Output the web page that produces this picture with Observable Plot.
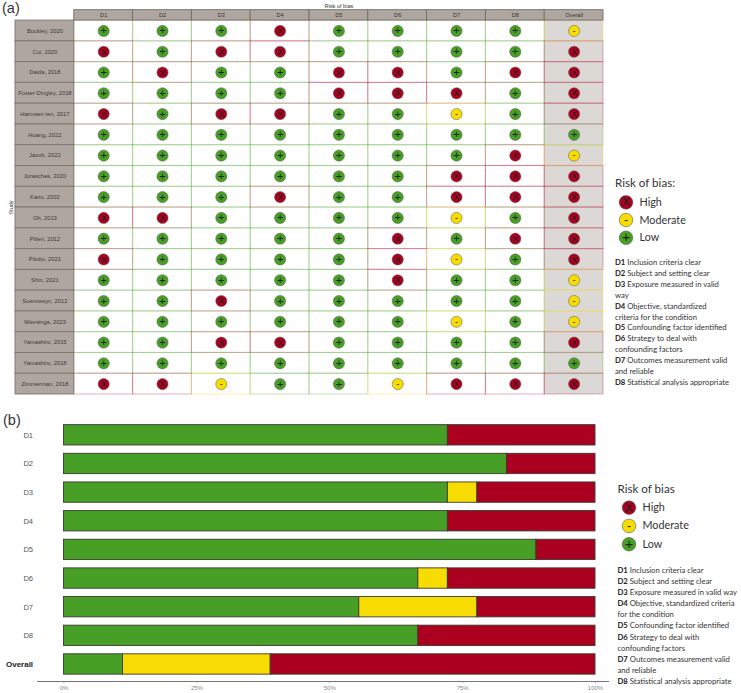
<!DOCTYPE html>
<html>
<head>
<meta charset="utf-8">
<script src="https://cdn.jsdelivr.net/npm/d3@7"></script>
<script src="https://cdn.jsdelivr.net/npm/@observablehq/plot@0.6"></script>
<style>
  html,body{margin:0;padding:0;background:#fff;}
  #page{position:relative;width:741px;height:693px;overflow:hidden;font-family:"Liberation Sans",sans-serif;}
  #page svg{position:absolute;background:transparent;overflow:visible;}
  .tag{position:absolute;font:14.5px "Liberation Sans",sans-serif;color:#333;line-height:1;}
  .ttl{position:absolute;font:11.6px Lato,sans-serif;color:#333;line-height:1;white-space:nowrap;}
  .def{position:absolute;font:7.7px Lato,sans-serif;color:#333;white-space:nowrap;line-height:1;}
  .def b{font-weight:700;color:#222;}
</style>
</head>
<body>
<div id="page"></div>
<script>
const studies = ["Buckley, 2020","Cui, 2020","Daida, 2018","Foster-Dingley, 2018","Harmsen ten, 2017","Huang, 2022","Jacob, 2022","Juraschek, 2020","Kario, 2002","Oh, 2013","Pilleri, 2012","Pilotto, 2021","Shin, 2021","Soennesyn, 2012","Wiersinga, 2023","Yamashiro, 2015","Yamashiro, 2018","Zimmerman, 2018"];
const domains = ["D1","D2","D3","D4","D5","D6","D7","D8","Overall"];
const D1 = ["+","X","+","+","X","+","+","+","+","X","+","X","+","+","+","+","+","X"];
const D2 = ["+","+","X","+","+","+","+","+","+","X","+","+","+","+","+","+","+","X"];
const D3 = ["+","X","+","+","X","+","+","+","+","+","+","+","+","X","+","X","+","-"];
const D4 = ["X","X","+","+","X","+","+","+","X","+","+","+","+","+","+","X","+","+"];
const D5 = ["+","+","X","X","+","+","+","+","+","+","+","+","+","+","+","+","+","+"];
const D6 = ["+","+","X","X","+","+","+","+","+","+","X","X","X","+","+","+","+","-"];
const D7 = ["+","+","+","X","-","+","+","X","X","-","+","-","+","+","-","+","+","X"];
const D8 = ["+","+","X","+","+","+","X","X","X","+","X","+","+","+","+","+","+","X"];
const Overall = ["-","X","X","X","X","+","-","X","X","X","X","X","-","-","-","X","+","X"];
const columns = [D1,D2,D3,D4,D5,D6,D7,D8,Overall];

const lowCounts  = [13,15,13,13,16,12,10,12,2];
const modCounts  = [0,0,1,0,0,1,4,0,5];
const highCounts = [5,3,4,5,2,5,4,6,11];
const nStudies = 18;
const pctTicks = [0,25,50,75,100];

const riskCodes = ["X","-","+"];
const riskLabels = ["High","Moderate","Low"];
const riskColors = ["#ab0020","#f6dc00","#47a025"];

const defsA = [["D1","Inclusion criteria clear"],["D2","Subject and setting clear"],["D3","Exposure measured in valid"],["","way"],["D4","Objective, standardized"],["","criteria for the condition"],["D5","Confounding factor identified"],["D6","Strategy to deal with"],["","confounding factors"],["D7","Outcomes measurement valid"],["","and reliable"],["D8","Statistical analysis appropriate"]];
const defsB = [["D1","Inclusion criteria clear"],["D2","Subject and setting clear"],["D3","Exposure measured in valid way"],["D4","Objective, standardized criteria"],["","for the condition"],["D5","Confounding factor identified"],["D6","Strategy to deal with"],["","confounding factors"],["D7","Outcomes measurement valid"],["","and reliable"],["D8","Statistical analysis appropriate"]];

const page = document.getElementById("page");
const FONT = "Liberation Sans";
const colorScale = {domain: riskCodes, range: riskColors};

// (a) traffic-light plot
const cells = studies.flatMap((s,i)=>domains.map((d,j)=>({study:s,domain:d,risk:columns[j][i]})));
const xCols = ["Study",...domains];
const yRows = ["Header",...studies];
const plotA = Plot.plot({
  width:741,height:395,margin:0,marginBottom:1,
  style:{fontFamily:FONT,background:"transparent"},
  x:{type:"band",domain:xCols,range:[15,603],padding:0,round:false,axis:null},
  y:{type:"band",domain:yRows,range:[-0.7,394],padding:0,round:false,axis:null},
  color:colorScale,
  marks:[
    Plot.cell(studies,{x:()=>"Overall",y:d=>d,fill:"#dcd8d5"}),
    Plot.cell(cells,{x:"domain",y:"study",fill:"none",stroke:"risk",strokeOpacity:0.28,strokeWidth:1.1}),
    Plot.cell(domains,{x:d=>d,y:()=>"Header",insetTop:10.4,fill:"#b0a6a0",stroke:"#746c67",strokeWidth:0.9}),
    Plot.cell(studies,{x:()=>"Study",y:d=>d,fill:"#b0a6a0",stroke:"#7c746f",strokeWidth:0.9}),
    Plot.text(domains,{x:d=>d,y:()=>"Header",text:d=>d,dy:5.2,fontSize:5.6,fill:"#333"}),
    Plot.text(studies,{x:()=>"Study",y:d=>d,text:d=>d,fontSize:5.8,fill:"#3a3a3a"}),
    Plot.dot(cells,{x:"domain",y:"study",fill:"risk",r:5.6,stroke:"#5a5a50",strokeWidth:0.5}),
    Plot.text(cells,{x:"domain",y:"study",text:"risk",fontSize:d=>d.risk==="+"?11:d.risk==="X"?9.5:9,fill:"#222"}),
    Plot.text(["Risk of bias"],{x:()=>"D5",frameAnchor:"top",lineAnchor:"middle",dy:6,fontSize:5.6,fill:"#333"}),
    Plot.text(["Study"],{frameAnchor:"left",textAnchor:"middle",rotate:-90,dx:10.5,dy:10,fontSize:5.6,fill:"#444"})
  ]
});
plotA.style.left="0";plotA.style.top="0";
page.appendChild(plotA);

// (b) summary bars
const bars = domains.flatMap((d,i)=>[
  {domain:d,risk:"+",pct:lowCounts[i]/nStudies*100},
  {domain:d,risk:"-",pct:modCounts[i]/nStudies*100},
  {domain:d,risk:"X",pct:highCounts[i]/nStudies*100}
]);
const plotB = Plot.plot({
  width:741,height:298,marginLeft:37,marginRight:133,marginTop:20,marginBottom:12,
  style:{fontFamily:FONT,background:"transparent"},
  x:{domain:[0,100],range:[63.5,595],axis:null},
  y:{type:"band",domain:domains,range:[25.5,283.3],paddingInner:0.29,paddingOuter:0.145,align:0.5,round:false,axis:null},
  color:colorScale,
  marks:[
    Plot.barX(bars,{x:"pct",y:"domain",fill:"risk",stroke:"#3a3a30",strokeWidth:0.9,order:null}),
    Plot.axisX({ticks:pctTicks,tickFormat:d=>d+"%",tickSize:1.5,tickPadding:2.5,fontSize:6,stroke:"#777",color:"#888",label:null,anchor:"bottom"}),
    Plot.frame({anchor:"bottom",stroke:"#777",strokeWidth:1}),
    Plot.axisY(domains.slice(0,8),{anchor:"left",tickSize:0,tickPadding:4.4,fontSize:7.6,color:"#555",label:null}),
    Plot.axisY(["Overall"],{anchor:"left",tickSize:0,tickPadding:4.4,fontSize:8,fontWeight:"bold",color:"#222",label:null})
  ]
});
plotB.style.left="0";plotB.style.top="395px";
page.appendChild(plotB);

// Panel tags
function tag(t,x,y){const e=document.createElement("div");e.className="tag";e.textContent=t;e.style.left=x+"px";e.style.top=y+"px";page.appendChild(e);}
tag("(a)",2,1);tag("(b)",3,413);

// Legends
function riskLegend(left,top,rowH){
  const items = riskCodes.map((c,i)=>({code:c,label:riskLabels[i]}));
  const p = Plot.plot({
    width:100,height:rowH*3,margin:0,
    style:{fontFamily:FONT,background:"transparent"},
    x:{axis:null},
    y:{type:"band",domain:riskCodes,padding:0,round:false,axis:null},
    color:colorScale,
    marks:[
      Plot.dot(items,{y:"code",frameAnchor:"left",dx:10.5,fill:"code",r:6.8,stroke:"#5a5a50",strokeWidth:0.6}),
      Plot.text(items,{y:"code",frameAnchor:"left",textAnchor:"middle",dx:10.5,text:"code",fontSize:d=>d.code==="+"?14:d.code==="X"?12.5:12,fill:"#222"}),
      Plot.text(items,{y:"code",frameAnchor:"left",dx:24,textAnchor:"start",text:"label",fontFamily:"Lato",fontSize:10.8,fill:"#333"})
    ]
  });
  p.style.left=left+"px";p.style.top=top+"px";
  page.appendChild(p);
}
function title(t,x,y){const e=document.createElement("div");e.className="ttl";e.textContent=t;e.style.left=x+"px";e.style.top=y+"px";page.appendChild(e);}
function defList(list,x,y,step){
  list.forEach(([k,t],i)=>{
    const e=document.createElement("div");e.className="def";
    e.innerHTML=(k?"<b>"+k+"</b> ":"")+t;
    e.style.left=x+"px";e.style.top=(y+i*step)+"px";page.appendChild(e);
  });
}
title("Risk of bias:",615,177);
riskLegend(615,193,17.7);
defList(defsA,615,259,10.9);
title("Risk of bias",617.5,483);
riskLegend(618,498,18.3);
defList(defsB,617.5,566.8,11.13);
</script>
</body>
</html>
